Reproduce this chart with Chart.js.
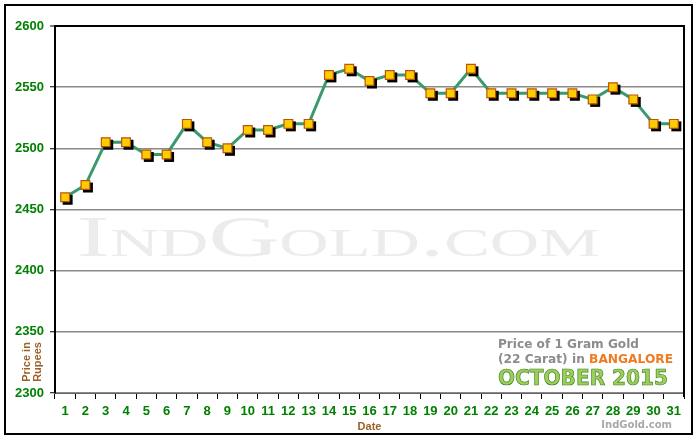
<!DOCTYPE html>
<html lang="en">
<head>
  <meta charset="UTF-8" />
  <title>Gold Price Bangalore October 2015</title>
  <script src="https://cdn.jsdelivr.net/npm/chart.js"></script>
  <style>
    body { margin: 0; background: #fff; }
    #goldChart { display: block; }
  </style>
</head>
<body>
  <canvas id="goldChart" width="700" height="440"></canvas>

  <script>
    // chart data
    const days = ['1', '2', '3', '4', '5', '6', '7', '8', '9', '10', '11', '12', '13', '14', '15', '16',
                  '17', '18', '19', '20', '21', '22', '23', '24', '25', '26', '27', '28', '29', '30', '31'];
    const prices = [2460, 2470, 2505, 2505, 2495, 2495, 2520, 2505, 2500, 2515, 2515, 2520, 2520, 2560, 2565, 2555,
                    2560, 2560, 2545, 2545, 2565, 2545, 2545, 2545, 2545, 2545, 2540, 2550, 2540, 2520, 2520];
    const yMin = 2300, yMax = 2600, yStep = 50;

    const green = '#008000';
    const brown = '#9c5f26';

    // page decorations: background, frame, watermark, captions
    const decorations = {
      id: 'decorations',
      beforeDraw(chart) {
        const ctx = chart.ctx;
        ctx.save();
        ctx.fillStyle = '#fff';
        ctx.fillRect(0, 0, chart.width, chart.height);
        ctx.restore();
      },
      beforeDatasetsDraw(chart) {
        const ctx = chart.ctx;
        const a = chart.chartArea;
        // watermark
        ctx.save();
        ctx.font = '56px "Liberation Serif", "DejaVu Serif", serif';
        ctx.fontVariantCaps = 'small-caps';
        ctx.fillStyle = '#ececec';
        const text = 'IndGold.com';
        const w = ctx.measureText(text).width;
        ctx.translate(a.left + 22, 256);
        ctx.scale(523 / w, 1);
        ctx.fillText(text, 0, 0);
        ctx.restore();
      },
      afterDatasetsDraw(chart) {
        const ctx = chart.ctx;
        const a = chart.chartArea;
        ctx.save();
        ctx.strokeStyle = '#000';
        ctx.lineWidth = 2;
        ctx.beginPath();
        ctx.moveTo(a.right, a.top - 1);
        ctx.lineTo(a.right, a.bottom + 4);
        ctx.stroke();
        ctx.restore();
      },
      afterDraw(chart) {
        const ctx = chart.ctx;
        ctx.save();
        // outer frame
        ctx.strokeStyle = '#000';
        ctx.lineWidth = 2;
        ctx.strokeRect(5, 5, 687, 429);

        // y title, two rotated lines
        ctx.fillStyle = brown;
        ctx.font = 'bold 11px "Liberation Sans", Arial, sans-serif';
        ctx.textAlign = 'center';
        ctx.textBaseline = 'middle';
        ctx.save();
        ctx.translate(27, 362);
        ctx.rotate(-Math.PI / 2);
        ctx.fillText('Price in', 0, 0);
        ctx.fillText('Rupees', 0, 11);
        ctx.restore();

        // caption box
        ctx.textAlign = 'left';
        ctx.textBaseline = 'alphabetic';
        ctx.font = 'bold 13px "DejaVu Sans", Verdana, sans-serif';
        ctx.fillStyle = '#8c8c8c';
        const capX = 498;
        ctx.save();
        ctx.translate(capX, 348);
        ctx.scale(141 / ctx.measureText('Price of 1 Gram Gold').width, 1);
        ctx.fillText('Price of 1 Gram Gold', 0, 0);
        ctx.restore();

        const part1 = '(22 Carat) in ';
        const part2 = 'BANGALORE';
        const total = ctx.measureText(part1 + part2).width;
        ctx.save();
        ctx.translate(capX, 363);
        ctx.scale(175 / total, 1);
        ctx.fillText(part1, 0, 0);
        ctx.fillStyle = '#f07a22';
        ctx.fillText(part2, ctx.measureText(part1).width, 0);
        ctx.restore();

        ctx.font = 'bold 22px "DejaVu Sans", Verdana, sans-serif';
        const grad = ctx.createLinearGradient(0, 368, 0, 386);
        grad.addColorStop(0, '#9ccf5a');
        grad.addColorStop(0.5, '#6aaa36');
        grad.addColorStop(1, '#3f8a1e');
        ctx.fillStyle = grad;
        ctx.strokeStyle = '#3f7f22';
        ctx.lineWidth = 0.7;
        ctx.save();
        ctx.translate(capX, 385);
        ctx.scale(170 / ctx.measureText('OCTOBER 2015').width, 1);
        ctx.fillText('OCTOBER 2015', 0, 0);
        ctx.strokeText('OCTOBER 2015', 0, 0);
        ctx.restore();

        // site credit
        ctx.font = 'bold 10px "DejaVu Sans", Verdana, sans-serif';
        ctx.fillStyle = '#a8a8a8';
        ctx.textAlign = 'right';
        ctx.fillText('IndGold.com', 672, 428);
        ctx.restore();
      }
    };

    // black drop shadow under the square markers, placed from the point elements
    const markerShadow = {
      id: 'markerShadow',
      beforeDatasetDraw(chart, args) {
        if (args.index !== 1) return;
        const ctx = chart.ctx;
        const meta = chart.getDatasetMeta(1);
        ctx.save();
        ctx.fillStyle = '#000';
        meta.data.forEach(pt => {
          const s = pt.options.radius * Math.SQRT1_2 + 0.6;
          ctx.fillRect(pt.x - s + 2.5, pt.y - s + 2.5, 2 * s, 2 * s);
        });
        ctx.restore();
      }
    };

    const ctx = document.getElementById('goldChart').getContext('2d');
    new Chart(ctx, {
      type: 'line',
      data: {
        labels: days,
        datasets: [
          {
            label: 'Price',
            data: prices,
            borderColor: '#3a9a6c',
            borderWidth: 3,
            pointRadius: 0,
            tension: 0,
            fill: false,
            order: 1
          },
          {
            label: 'Markers',
            data: prices,
            showLine: false,
            pointStyle: 'rect',
            pointRadius: 6.2,
            pointBackgroundColor: '#ffcc00',
            pointBorderColor: '#b8560e',
            pointBorderWidth: 1.2,
            order: 0
          }
        ]
      },
      options: {
        responsive: false,
        animation: false,
        events: [],
        layout: { padding: { left: 0, top: 26, right: 16, bottom: 6 } },
        plugins: {
          legend: { display: false },
          tooltip: { enabled: false }
        },
        scales: {
          x: {
            offset: true,
            afterFit: scale => { scale.height = 41; },
            grid: {
              offset: true,
              drawOnChartArea: false,
              tickLength: 6,
              color: '#000',
              tickColor: '#000'
            },
            border: { display: true, color: '#666', width: 1 },
            ticks: {
              autoSkip: false,
              maxRotation: 0,
              padding: 5,
              color: green,
              font: { family: '"Liberation Sans", Arial, sans-serif', size: 13, weight: 'bold' }
            },
            title: {
              display: true,
              text: 'Date',
              color: brown,
              padding: { top: 0, bottom: 0 },
              font: { family: '"Liberation Sans", Arial, sans-serif', size: 11, weight: 'bold' }
            }
          },
          y: {
            min: yMin,
            max: yMax,
            afterFit: scale => { scale.width = 55; },
            ticks: {
              stepSize: yStep,
              padding: 6,
              color: green,
              callback: v => String(v),
              font: { family: '"Liberation Sans", Arial, sans-serif', size: 13, weight: 'bold' }
            },
            grid: {
              tickLength: 5,
              color: c => (c.tick && c.tick.value === yMax ? '#000' : '#8a8a8a'),
              lineWidth: c => (c.tick && c.tick.value === yMax ? 2 : 1.5),
              tickColor: '#000',
              tickWidth: 1
            },
            border: { display: true, color: '#000', width: 2 }
          }
        }
      },
      plugins: [decorations, markerShadow]
    });
  </script>
</body>
</html>
